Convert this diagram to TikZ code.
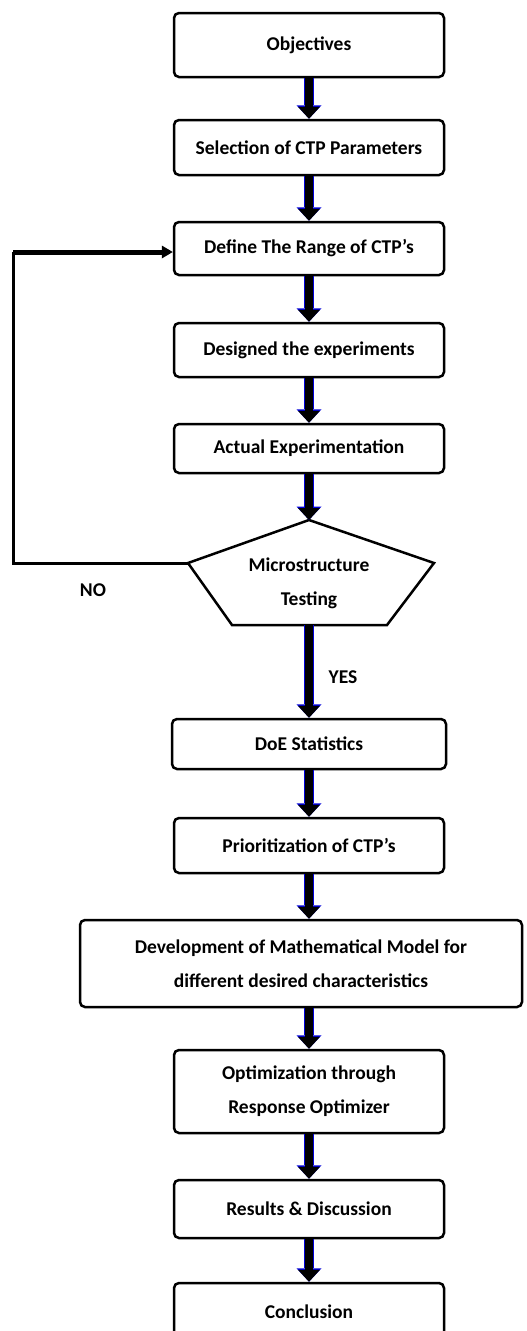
\documentclass[tikz,border=0pt]{standalone}
\usepackage{fontspec}
\setmainfont{Carlito}
\usetikzlibrary{arrows.meta}
\begin{document}
\begin{tikzpicture}[x=1pt,y=-1pt,
  box/.style={rectangle, rounded corners=5pt,
    draw, line width=2.5pt, minimum width=270pt, inner sep=0pt, text=black,
    font=\fontsize{19.5}{34}\selectfont\bfseries, align=center},
  lbl/.style={font=\fontsize{19.5}{34}\selectfont\bfseries, align=center, inner sep=0pt},
  flow/.style={line width=8pt, -{Triangle[width=22pt,length=12pt,line width=0pt]},
    preaction={draw=blue!85!black, line width=10pt, -{Triangle[width=25pt,length=13.5pt,line width=0pt]}}},
  fb/.style={line width=3pt, line join=miter},
]
\useasboundingbox (0,0) rectangle (527,1331);

\node[box, minimum height=64pt] (obj) at (309,45) {Objectives};
\node[box, minimum height=55pt] (sel) at (309,147.5) {Selection of CTP Parameters};
\node[box, minimum height=53pt] (def) at (309,248.5) {Define The Range of CTP's};
\node[box, minimum height=54pt] (des) at (309,350) {Designed the experiments};
\node[box, minimum height=49pt] (act) at (309,448.5) {Actual Experimentation};

\coordinate (apex) at (309,520);
\coordinate (hr) at (434,563);
\coordinate (br) at (387,625);
\coordinate (bl) at (232,625);
\coordinate (hl) at (188,563);
\coordinate (hb) at (309,625);
\draw[line width=2.5pt, line join=miter] (apex) -- (hr) -- (br) -- (bl) -- (hl) -- cycle;
\node[lbl] (mst) at (309,583) {Microstructure\\Testing};

\node[box, minimum width=274pt, minimum height=50pt] (doe) at (309,744) {DoE Statistics};
\node[box, minimum height=55pt] (pri) at (309,845.5) {Prioritization of CTP's};
\node[box, minimum width=442pt, minimum height=87pt] (dev) at (301,963.5) {Development of Mathematical Model for\\different desired characteristics};
\node[box, minimum height=83pt] (opt) at (309,1091.5) {Optimization through\\Response Optimizer};
\node[box, minimum height=58pt] (res) at (309,1209) {Results \& Discussion};
\node[box, minimum height=57pt] (con) at (309,1311.5) {Conclusion};

\draw[flow] (obj.south) -- (sel.north);
\draw[flow] (sel.south) -- (def.north);
\draw[flow] (def.south) -- (des.north);
\draw[flow] (des.south) -- (act.north);
\draw[flow] (act.south) -- (apex);
\draw[flow] (hb) -- (doe.north);
\draw[flow] (doe.south) -- (pri.north);
\draw[flow] (pri.south) -- (pri.south |- dev.north);
\draw[flow] (pri.south |- dev.south) -- (opt.north);
\draw[flow] (opt.south) -- (res.north);
\draw[flow] (res.south) -- (con.north);

\coordinate (fbk) at (13,252);
\draw[fb] (hl) -| (fbk);
\draw[line width=5pt, -{Triangle[width=13pt,length=11pt,line width=0pt]}] (fbk) -- (fbk -| def.west);

\node[lbl] (no) at (93,590) {NO};
\node[lbl] (yes) at (343,677) {YES};
\end{tikzpicture}
\end{document}
